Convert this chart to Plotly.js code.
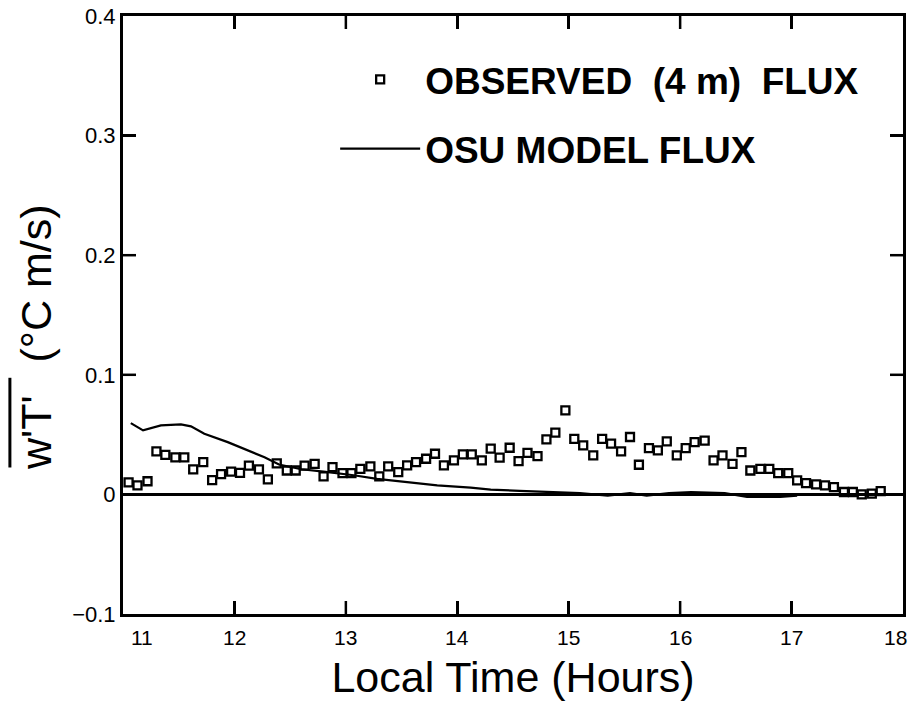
<!DOCTYPE html>
<html>
<head>
<meta charset="utf-8">
<script src="https://cdn.plot.ly/plotly-3.0.1.min.js"></script>
<style>html,body{margin:0;padding:0;background:#fff;}#chart{width:913px;height:709px;}</style>
</head>
<body>
<div id="chart"></div>
<script>
// Observed (4 m) flux, 5-minute samples (local time in hours)
const obsTime = [11.05, 11.13, 11.22, 11.30, 11.38, 11.47, 11.55, 11.63, 11.72, 11.80,
  11.88, 11.97, 12.05, 12.13, 12.22, 12.30, 12.38, 12.47, 12.55, 12.63,
  12.72, 12.80, 12.88, 12.97, 13.05, 13.13, 13.22, 13.30, 13.38, 13.47,
  13.55, 13.63, 13.72, 13.80, 13.88, 13.97, 14.05, 14.13, 14.22, 14.30,
  14.38, 14.47, 14.55, 14.63, 14.72, 14.80, 14.88, 14.97, 15.05, 15.13,
  15.22, 15.30, 15.38, 15.47, 15.55, 15.63, 15.72, 15.80, 15.88, 15.97,
  16.05, 16.13, 16.22, 16.30, 16.38, 16.47, 16.55, 16.63, 16.72, 16.80,
  16.88, 16.97, 17.05, 17.13, 17.22, 17.30, 17.38, 17.47, 17.55, 17.63,
  17.72, 17.80];
const obsFlux = [0.010, 0.0075, 0.011, 0.036, 0.033, 0.031, 0.031, 0.021, 0.027, 0.012,
  0.017, 0.019, 0.018, 0.024, 0.021, 0.0125, 0.026, 0.020, 0.020, 0.024,
  0.0256, 0.015, 0.0228, 0.0178, 0.0178, 0.0214, 0.0234, 0.015, 0.0234, 0.0187,
  0.0242, 0.027, 0.0298, 0.034, 0.0242, 0.0284, 0.0334, 0.0334, 0.0284, 0.0382,
  0.0307, 0.039, 0.0279, 0.0348, 0.032, 0.046, 0.0516, 0.0702, 0.0465, 0.041,
  0.0326, 0.0465, 0.0424, 0.036, 0.048, 0.0248, 0.0387, 0.0368, 0.0443, 0.0326,
  0.0387, 0.0437, 0.045, 0.0284, 0.0326, 0.0256, 0.0354, 0.020, 0.0214, 0.0214,
  0.0178, 0.0178, 0.0117, 0.0095, 0.0084, 0.0075, 0.0061, 0.002, 0.002, 0.0,
  0.0006, 0.0028];

// OSU model flux
const modelTime = [11.07, 11.18, 11.34, 11.52, 11.61, 11.73, 11.94, 12.12, 12.27, 12.40,
  12.60, 12.80, 13.07, 13.28, 13.55, 13.82, 14.12, 14.30, 14.56, 14.80,
  15.10, 15.35, 15.55, 15.70, 15.90, 16.10, 16.40, 16.60, 16.90, 17.05];
const modelFlux = [0.0596, 0.0535, 0.0577, 0.0585, 0.0569, 0.0507, 0.0437, 0.0368, 0.031, 0.025,
  0.021, 0.019, 0.016, 0.013, 0.0103, 0.0075, 0.0056, 0.004, 0.003, 0.002,
  0.001, -0.001, 0.001, -0.001, 0.001, 0.002, 0.001, -0.002, -0.002, -0.001];

const xTickVals = [11, 12, 13, 14, 15, 16, 17, 18];
const xTickText = ["11", "12", "13", "14", "15", "16", "17", "18"];
const yTickVals = [-0.1, 0, 0.1, 0.2, 0.3, 0.4];
const yTickText = ["\u22120.1", "0", "0.1", "0.2", "0.3", "0.4"];

const obsName = "OBSERVED  (4 m)  FLUX";
const modelName = "OSU MODEL FLUX";
const yTitleFlux = "w'T'";
const yTitleUnits = "(\u00B0C m/s)";
const xTitle = "Local Time (Hours)";

const FONT = "Liberation Sans, Arial, Helvetica, sans-serif";
const X_RANGE = [11, 18];
const Y_RANGE = [-0.1, 0.4];
const W = 913, H = 709;
const M = {l: 123, r: 10, t: 16, b: 95};
const TICK_LEN = 13;
// half a tick length converted to axis units (tick markers are centred there)
const halfDx = TICK_LEN / 2 / (W - M.l - M.r) * (X_RANGE[1] - X_RANGE[0]);
const halfDy = TICK_LEN / 2 / (H - M.t - M.b) * (Y_RANGE[1] - Y_RANGE[0]);

// tick marks on all four sides, built from the tick value arrays
const vtX = [], vtY = [], htX = [], htY = [];
xTickVals.forEach(function (v) {
  if (v <= X_RANGE[0] || v >= X_RANGE[1]) return;
  vtX.push(v, v);
  vtY.push(Y_RANGE[0] + halfDy, Y_RANGE[1] - halfDy);
});
yTickVals.forEach(function (v) {
  if (v <= Y_RANGE[0] || v >= Y_RANGE[1]) return;
  htX.push(X_RANGE[0] + halfDx, X_RANGE[1] - halfDx);
  htY.push(v, v);
});
const TICK_MARKER_SIZE = TICK_LEN / 1.4;

const traces = [
  {x: vtX, y: vtY, type: "scatter", mode: "markers", showlegend: false, hoverinfo: "skip",
   marker: {symbol: "line-ns-open", size: TICK_MARKER_SIZE, color: "#000", line: {width: 2.5, color: "#000"}}},
  {x: htX, y: htY, type: "scatter", mode: "markers", showlegend: false, hoverinfo: "skip",
   marker: {symbol: "line-ew-open", size: TICK_MARKER_SIZE, color: "#000", line: {width: 2.5, color: "#000"}}},
  {x: obsTime, y: obsFlux, type: "scatter", mode: "markers", name: obsName, legendgroup: "a",
   marker: {symbol: "square-open", size: 8, color: "#000", line: {width: 2.3, color: "#000"}}},
  {x: modelTime, y: modelFlux, type: "scatter", mode: "lines", name: modelName, legendgroup: "b",
   line: {color: "#000", width: 2.2}}
];

const shapes = [
  // overline above w'T'
  {type: "line", xref: "paper", yref: "paper", x0: -0.145, x1: -0.145, y0: 0.245, y1: 0.395,
   line: {color: "#000", width: 3}}
];

// x tick labels (end labels nudged inward as in the original figure)
const annotations = xTickText.map(function (t, i) {
  let shift = 0;
  if (i === 0) shift = 19;
  if (i === xTickText.length - 1) shift = -8;
  return {text: t, x: xTickVals[i], xref: "x", y: 0, yref: "paper", yanchor: "top",
    xanchor: "center", xshift: shift, yshift: -10, showarrow: false,
    font: {family: FONT, size: 21, color: "#000"}};
});
annotations.push(
  {text: yTitleFlux, textangle: -90, xref: "paper", yref: "paper", x: -0.1115, y: 0.3027,
   xanchor: "center", yanchor: "middle", showarrow: false, font: {family: FONT, size: 43, color: "#000"}},
  {text: yTitleUnits, textangle: -90, xref: "paper", yref: "paper", x: -0.1115, y: 0.5527,
   xanchor: "center", yanchor: "middle", showarrow: false, font: {family: FONT, size: 43, color: "#000"}}
);

const layout = {
  width: W, height: H,
  margin: M,
  paper_bgcolor: "#fff", plot_bgcolor: "#fff",
  font: {family: FONT, color: "#000", size: 20},
  showlegend: true,
  legend: {x: 0.272, y: 0.945, xanchor: "left", yanchor: "top",
    font: {family: FONT, size: 37, color: "#000", weight: "bold"},
    itemwidth: 80, tracegroupgap: 18, bgcolor: "rgba(0,0,0,0)", itemclick: false},
  xaxis: {
    range: X_RANGE, tickmode: "array", tickvals: xTickVals, ticktext: xTickText,
    ticks: "inside", ticklen: TICK_LEN, tickwidth: 2.5, tickcolor: "#000", showticklabels: false,
    showline: true, linewidth: 3, linecolor: "#000", mirror: "ticks",
    showgrid: false, zeroline: false,
    title: {text: xTitle, font: {family: FONT, size: 43, color: "#000"}, standoff: 46},
    automargin: false
  },
  yaxis: {
    range: Y_RANGE, tickmode: "array", tickvals: yTickVals, ticktext: yTickText,
    ticks: "inside", ticklen: TICK_LEN, tickwidth: 2.5, tickcolor: "#000",
    showline: true, linewidth: 3, linecolor: "#000", mirror: "ticks",
    showgrid: false, zeroline: true, zerolinewidth: 3, zerolinecolor: "#000",
    tickfont: {family: FONT, size: 22, color: "#000"},
    automargin: false
  },
  annotations: annotations,
  shapes: shapes
};

Plotly.newPlot("chart", traces, layout, {displayModeBar: false, staticPlot: true});
</script>
</body>
</html>
